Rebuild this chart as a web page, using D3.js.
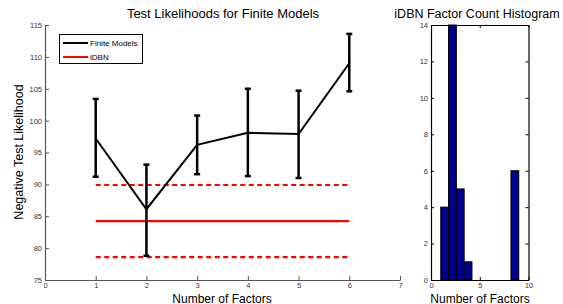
<!DOCTYPE html>
<html>
<head>
<meta charset="utf-8">
<script src="https://cdn.jsdelivr.net/npm/d3@7"></script>
<style>
body { margin: 0; background: #fff; }
svg text { font-family: "Liberation Sans", Arial, sans-serif; }
</style>
</head>
<body>
<div id="chart"></div>
<script>
// finite models: mean and error bar ends per factor count
var factors = [1, 2, 3, 4, 5, 6]
var finiteMean = [97.2, 86.1, 96.2, 98.1, 97.9, 109.0]
var finiteLow = [91.2, 78.8, 91.6, 91.3, 91.0, 104.6]
var finiteHigh = [103.4, 93.1, 100.8, 105.0, 104.7, 113.6]

// iDBN mean and +/- band
var idbnMean = 84.25
var idbnLow = 78.6
var idbnHigh = 89.9

// histogram of iDBN factor counts (bin centres, counts)
var binCenters = [1.4, 2.2, 3.0, 3.8, 4.6, 5.4, 6.2, 7.0, 7.8, 8.6]
var binCounts = [4, 14, 5, 1, 0, 0, 0, 0, 0, 6]
var binWidth = 0.8

var leftXTicks = [0, 1, 2, 3, 4, 5, 6, 7]
var leftYTicks = [75, 80, 85, 90, 95, 100, 105, 110, 115]
var histXTicks = [0, 5, 10]
var histYTicks = [0, 2, 4, 6, 8, 10, 12, 14]

var fmt = d3.format('d')

var svg = d3.select('#chart').append('svg')
  .attr('width', 563).attr('height', 304)

// ---- left plot
var x = d3.scaleLinear().domain([0, 7]).range([45, 400])
var y = d3.scaleLinear().domain([75, 115]).range([280, 25])

var axisColor = '#555'

var gx = svg.append('g').attr('transform', 'translate(0,280)')
  .call(d3.axisBottom(x).tickValues(leftXTicks).tickFormat(fmt).tickSize(-4).tickPadding(3).tickSizeOuter(0))
var gy = svg.append('g').attr('transform', 'translate(45,0)')
  .call(d3.axisLeft(y).tickValues(leftYTicks).tickFormat(fmt).tickSize(-4).tickPadding(3).tickSizeOuter(0))

;[gx, gy].forEach(function(g){
  g.select('.domain').attr('stroke', axisColor).attr('stroke-width', 1.2)
  g.selectAll('.tick line').attr('stroke', axisColor)
  g.selectAll('.tick text').attr('font-size', 7.5).attr('fill', '#333')
    .style('font-family', '"Liberation Sans", Arial, sans-serif')
})

// iDBN lines
var red = '#ff0000'
function hline(v, dashed){
  svg.append('line')
    .attr('x1', x(1)).attr('x2', x(6)).attr('y1', y(v)).attr('y2', y(v))
    .attr('stroke', red).attr('stroke-width', 2.2)
    .attr('stroke-dasharray', dashed ? '5,3.5' : null)
}
hline(idbnHigh, true)
hline(idbnMean, false)
hline(idbnLow, true)

// finite model line + error bars
var pts = factors.map(function(f, i){
  return {x: f, m: finiteMean[i], lo: finiteLow[i], hi: finiteHigh[i]}
})
svg.append('path')
  .attr('d', d3.line().x(function(d){ return x(d.x) }).y(function(d){ return y(d.m) })(pts))
  .attr('fill', 'none').attr('stroke', '#000').attr('stroke-width', 2)

var eb = svg.append('g').selectAll('g').data(pts).enter().append('g')
eb.append('line')
  .attr('x1', function(d){ return x(d.x) }).attr('x2', function(d){ return x(d.x) })
  .attr('y1', function(d){ return y(d.lo) }).attr('y2', function(d){ return y(d.hi) })
  .attr('stroke', '#000').attr('stroke-width', 2.5)
;['lo', 'hi'].forEach(function(k){
  eb.append('line')
    .attr('x1', function(d){ return x(d.x) - 3 }).attr('x2', function(d){ return x(d.x) + 3 })
    .attr('y1', function(d){ return y(d[k]) }).attr('y2', function(d){ return y(d[k]) })
    .attr('stroke', '#000').attr('stroke-width', 2.5)
})

// legend
var lg = svg.append('g')
lg.append('rect').attr('x', 59.5).attr('y', 34.5).attr('width', 83).attr('height', 29)
  .attr('fill', '#fff').attr('stroke', '#000').attr('stroke-width', 1)
lg.append('line').attr('x1', 63).attr('x2', 88).attr('y1', 43).attr('y2', 43)
  .attr('stroke', '#000').attr('stroke-width', 2)
lg.append('line').attr('x1', 63).attr('x2', 88).attr('y1', 57).attr('y2', 57)
  .attr('stroke', red).attr('stroke-width', 2)
lg.append('text').attr('x', 90).attr('y', 45.8).attr('font-size', 8).text('Finite Models')
lg.append('text').attr('x', 90).attr('y', 59.8).attr('font-size', 8).text('iDBN')

// titles
svg.append('text').attr('x', 223).attr('y', 18).attr('text-anchor', 'middle')
  .attr('font-size', 13).text('Test Likelihoods for Finite Models')
svg.append('text').attr('x', 222).attr('y', 302.5).attr('text-anchor', 'middle')
  .attr('font-size', 12).text('Number of Factors')
svg.append('text').attr('transform', 'translate(23,152) rotate(-90)').attr('text-anchor', 'middle')
  .attr('font-size', 12.5).text('Negative Test Likelihood')

// ---- histogram
var hx = d3.scaleLinear().domain([0, 10]).range([431, 528.5])
var hy = d3.scaleLinear().domain([0, 14]).range([280, 25])

svg.append('g').selectAll('rect').data(binCenters).enter().append('rect')
  .attr('x', function(d){ return hx(d - binWidth / 2) })
  .attr('width', function(d){ return hx(d + binWidth / 2) - hx(d - binWidth / 2) })
  .attr('y', function(d, i){ return hy(binCounts[i]) })
  .attr('height', function(d, i){ return hy(0) - hy(binCounts[i]) })
  .attr('fill', '#00008f').attr('stroke', '#000').attr('stroke-width', 1)

var hb = svg.append('g').attr('transform', 'translate(0,280)')
  .call(d3.axisBottom(hx).tickValues(histXTicks).tickFormat(fmt).tickSize(-3).tickPadding(3).tickSizeOuter(0))
var hl = svg.append('g').attr('transform', 'translate(431,0)')
  .call(d3.axisLeft(hy).tickValues(histYTicks).tickFormat(fmt).tickSize(-3).tickPadding(3).tickSizeOuter(0))
var ht = svg.append('g').attr('transform', 'translate(0,25)')
  .call(d3.axisTop(hx).tickValues(histXTicks).tickSize(-3).tickFormat('').tickSizeOuter(0))
var hr = svg.append('g').attr('transform', 'translate(528.5,0)')
  .call(d3.axisRight(hy).tickValues(histYTicks).tickSize(-3).tickFormat('').tickSizeOuter(0))

;[hb, hl, ht, hr].forEach(function(g){
  g.select('.domain').attr('stroke', '#000').attr('stroke-width', 1.2)
  g.selectAll('.tick line').attr('stroke', '#000')
  g.selectAll('.tick text').attr('font-size', 7.5).attr('fill', '#333')
    .style('font-family', '"Liberation Sans", Arial, sans-serif')
})

svg.append('text').attr('x', 477).attr('y', 18).attr('text-anchor', 'middle')
  .attr('font-size', 12.5).text('iDBN Factor Count Histogram')
svg.append('text').attr('x', 480).attr('y', 302.5).attr('text-anchor', 'middle')
  .attr('font-size', 12).text('Number of Factors')
</script>
</body>
</html>
